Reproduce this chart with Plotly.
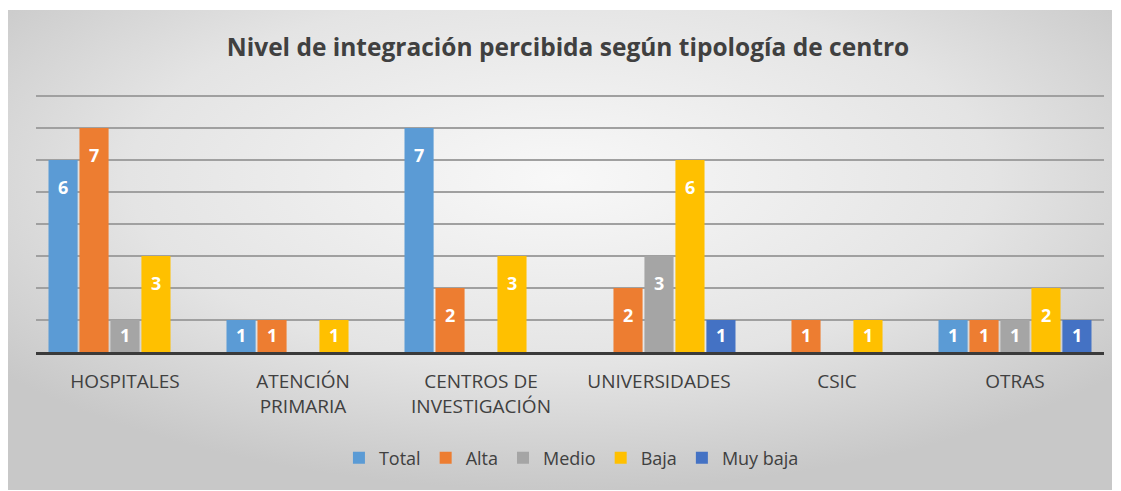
import plotly.graph_objects as go
import urllib.parse

categories = ["HOSPITALES", "ATENCIÓN<br>PRIMARIA", "CENTROS DE<br>INVESTIGACIÓN",
              "UNIVERSIDADES", "CSIC", "OTRAS"]
total = [6, 1, 7, 0, 0, 1]
alta = [7, 1, 2, 2, 1, 1]
medio = [1, 0, 0, 3, 0, 1]
baja = [3, 1, 3, 6, 1, 2]
muy_baja = [0, 0, 0, 1, 0, 1]

series = [("Total", total, "#5B9BD5"),
          ("Alta", alta, "#ED7D31"),
          ("Medio", medio, "#A5A5A5"),
          ("Baja", baja, "#FFC000"),
          ("Muy baja", muy_baja, "#4472C4")]

# page offset (body margin) = 8px
FW, FH = 1113, 483
YMAX = 8.25
L, R, B = 28, 1096, 344
T = B - int(round(32 * YMAX))
W, H = R - L, B - T
BARGAP = 0.13
NS = len(series)
slot = W / len(categories) * (1 - BARGAP) / NS

fig = go.Figure()
annotations = []
for i, (name, vals, color) in enumerate(series):
    fig.add_trace(go.Bar(
        name=name, x=categories, y=vals,
        marker=dict(color=color, line=dict(width=0)),
    ))
    for c, v in zip(categories, vals):
        if v:
            annotations.append(dict(
                x=c, y=v, xref="x", yref="y", text=f"<b>{v}</b>", showarrow=False,
                xshift=(i - (NS - 1) / 2) * slot, yanchor="top",
                yshift=-13 if v >= 2 else -1,
                font=dict(family="Open Sans", size=18, color="white"),
            ))

svg = ('<svg xmlns="http://www.w3.org/2000/svg" width="1104" height="480" preserveAspectRatio="none">'
       '<defs><radialGradient id="g" cx="50%" cy="35%" r="65%">'
       '<stop offset="0" stop-color="#f8f8f8"/><stop offset="0.6" stop-color="#e4e4e4"/>'
       '<stop offset="1" stop-color="#c8c8c8"/></radialGradient></defs>'
       '<rect width="1104" height="480" fill="url(#g)"/></svg>')
src = "data:image/svg+xml;charset=utf-8," + urllib.parse.quote(svg)

fig.add_layout_image(dict(
    source=src, xref="paper", yref="paper",
    x=(0 - L) / W, y=(B - 2) / H, sizex=1104 / W, sizey=480 / H,
    xanchor="left", yanchor="top", sizing="stretch", layer="below",
))

fig.update_layout(
    width=FW, height=FH,
    margin=dict(l=L, r=FW - R, t=T, b=FH - B),
    paper_bgcolor="white", plot_bgcolor="rgba(0,0,0,0)",
    barmode="group", bargap=BARGAP, bargroupgap=0.06,
    annotations=annotations,
    title=dict(text="<b>Nivel de integración percibida según tipología de centro</b>",
               x=(568 - 8) / FW, xanchor="center", y=1 - 39 / FH, yanchor="middle",
               font=dict(family="Open Sans", size=24.5, color="#404040")),
    font=dict(family="Open Sans", color="#404040"),
    legend=dict(orientation="h", x=(566 - 8) / FW, xanchor="center", y=1 - 450 / FH,
                yref="container", yanchor="middle", font=dict(size=18, color="#404040"),
                itemwidth=30, traceorder="normal", bgcolor="rgba(0,0,0,0)"),
    showlegend=True,
)
fig.update_xaxes(showline=True, linecolor="#3a3a3a", linewidth=3,
                 tickfont=dict(size=19, color="#404040"), ticks="", showgrid=False,
                 ticklabelstandoff=10)
fig.update_yaxes(range=[0, YMAX], dtick=1, showticklabels=False, showgrid=True,
                 gridcolor="#a0a0a0", gridwidth=1.5, zeroline=False)

fig.write_html("out.html")
